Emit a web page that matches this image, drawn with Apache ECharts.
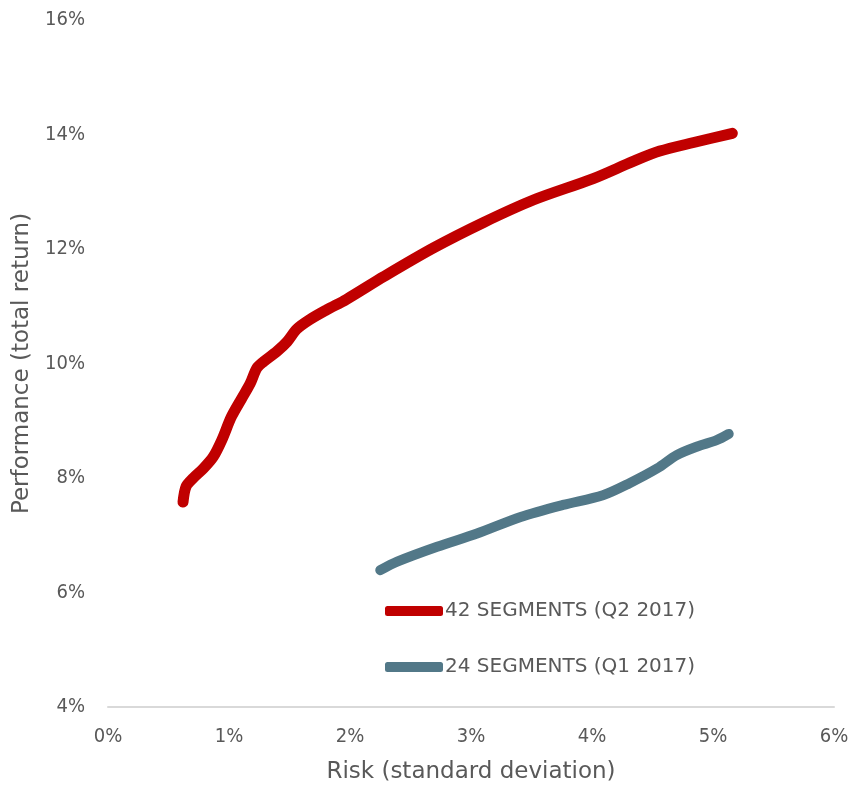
<!DOCTYPE html>
<html>
<head>
<meta charset="utf-8">
<script src="https://cdn.jsdelivr.net/npm/echarts@6/dist/echarts.min.js"></script>
<style>
  html, body { margin: 0; padding: 0; background: #fff; }
  #container { width: 867px; height: 789px; }
</style>
</head>
<body>
<div id="container"></div>
<script>
var seriesNames = ['42 SEGMENTS (Q2 2017)', '24 SEGMENTS (Q1 2017)'];

// risk (x, %) and return (y, %)
var q2Risk = [0.62, 0.645, 0.705, 0.79, 0.87, 0.94, 1.02, 1.105, 1.175, 1.23, 1.285, 1.395, 1.48, 1.56, 1.67, 1.81, 1.97, 2.28, 2.69, 3.10, 3.52, 4.01, 4.34, 4.56, 4.84, 5.16];
var q2Return = [7.58, 7.85, 8.0, 8.17, 8.37, 8.66, 9.07, 9.39, 9.65, 9.92, 10.03, 10.21, 10.38, 10.6, 10.77, 10.94, 11.12, 11.52, 12.02, 12.46, 12.86, 13.23, 13.53, 13.71, 13.86, 14.02];

var q1Risk = [2.25, 2.39, 2.72, 3.05, 3.41, 3.76, 4.09, 4.31, 4.54, 4.70, 4.87, 5.03, 5.13];
var q1Return = [6.39, 6.54, 6.80, 7.03, 7.32, 7.53, 7.70, 7.91, 8.17, 8.40, 8.55, 8.66, 8.77];

var xTicks = { min: 0, max: 6, step: 1 };
var yTicks = { min: 4, max: 16, step: 2 };

function pairs(xs, ys) {
    return xs.map(function (x, i) { return [x, ys[i]]; });
}

var dom = document.getElementById('container');
var myChart = echarts.init(dom, null, { renderer: 'canvas' });

var tickFont = '"DejaVu Sans Condensed", "DejaVu Sans", sans-serif';
var textFont = '"DejaVu Sans", sans-serif';
var textColor = '#595959';

var option = {
    animation: false,
    backgroundColor: '#ffffff',
    textStyle: { fontFamily: textFont },
    grid: {
        left: 108,
        right: 33,
        top: 20,
        bottom: 82
    },
    legend: {
        orient: 'vertical',
        left: 380,
        top: 594,
        icon: 'roundRect',
        itemWidth: 58,
        itemHeight: 10,
        itemGap: 32,
        data: seriesNames,
        textStyle: {
            color: textColor,
            fontSize: 20,
            lineHeight: 24,
            fontFamily: textFont,
            padding: [0, 0, 0, -3]
        }
    },
    xAxis: {
        type: 'value',
        min: xTicks.min,
        max: xTicks.max,
        interval: xTicks.step,
        name: 'Risk (standard deviation)',
        nameLocation: 'middle',
        nameGap: 54,
        nameTextStyle: { color: textColor, fontSize: 23, fontFamily: textFont },
        axisLine: { show: true, lineStyle: { color: '#d9d9d9', width: 2 } },
        axisTick: { show: false },
        splitLine: { show: false },
        axisLabel: {
            color: textColor,
            fontSize: 20,
            margin: 20,
            fontFamily: tickFont,
            formatter: '{value}%'
        }
    },
    yAxis: {
        type: 'value',
        min: yTicks.min,
        max: yTicks.max,
        interval: yTicks.step,
        name: 'Performance (total return)',
        nameLocation: 'middle',
        nameGap: 74,
        nameTextStyle: { color: textColor, fontSize: 23, fontFamily: textFont },
        axisLine: { show: false },
        axisTick: { show: false },
        splitLine: { show: false },
        axisLabel: {
            color: textColor,
            fontSize: 20,
            margin: 23,
            fontFamily: tickFont,
            formatter: '{value}%'
        }
    },
    series: [
        {
            name: seriesNames[0],
            type: 'line',
            data: pairs(q2Risk, q2Return),
            smooth: 0.3,
            symbol: 'none',
            color: '#c00000',
            lineStyle: { color: '#c00000', width: 11, cap: 'round', join: 'round' }
        },
        {
            name: seriesNames[1],
            type: 'line',
            data: pairs(q1Risk, q1Return),
            smooth: 0.3,
            symbol: 'none',
            color: '#527888',
            lineStyle: { color: '#527888', width: 10, cap: 'round', join: 'round' }
        }
    ]
};

if (option && typeof option === 'object') {
    myChart.setOption(option, true);
}
</script>
</body>
</html>
